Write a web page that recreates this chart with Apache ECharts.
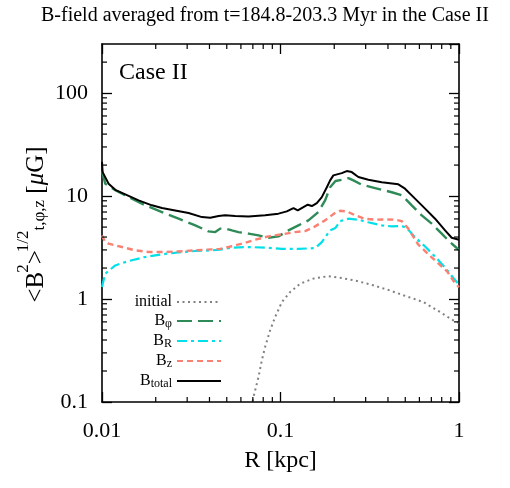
<!DOCTYPE html>
<html>
<head>
<meta charset="utf-8">
<script src="https://cdn.jsdelivr.net/npm/echarts@6/dist/echarts.min.js"></script>
<style>
  html, body { margin: 0; padding: 0; background: #fff; }
  #chart { width: 510px; height: 488px; }
</style>
</head>
<body>
<div id="chart"></div>
<script>
// Radial profiles of the time/azimuth/height averaged field strength [R (kpc), B (μG)]
const bInitial = [
  [0.068, 0.08], [0.0706, 0.112], [0.0753, 0.175], [0.0786, 0.254], [0.082, 0.342],
  [0.0875, 0.497], [0.0933, 0.668], [0.1018, 0.935], [0.1132, 1.17], [0.1288, 1.41],
  [0.1529, 1.58], [0.1855, 1.67], [0.2158, 1.61], [0.2676, 1.50], [0.331, 1.36],
  [0.411, 1.21], [0.5094, 1.06], [0.631, 0.935], [0.783, 0.748], [0.929, 0.62], [1.0, 0.585]
];
const bPhi = [
  [0.01, 17.5], [0.01043, 13.2], [0.01187, 11.4], [0.01409, 9.77], [0.01747, 8.13],
  [0.02168, 7.0], [0.02685, 6.03], [0.0333, 5.19], [0.0395, 4.54], [0.0431, 4.47],
  [0.0459, 4.83], [0.049, 4.83], [0.0534, 4.64], [0.0581, 4.47], [0.0662, 4.32],
  [0.0753, 4.15], [0.0856, 3.94], [0.0974, 4.06], [0.1108, 4.64], [0.126, 5.19],
  [0.1434, 5.81], [0.163, 7.0], [0.1778, 9.08], [0.1897, 12.2], [0.2032, 14.0],
  [0.2205, 14.4], [0.240, 14.96], [0.256, 14.2], [0.2853, 12.9], [0.3387, 11.97],
  [0.420, 10.9], [0.4779, 10.2], [0.5435, 8.13], [0.6183, 6.5], [0.7034, 5.4],
  [0.8, 4.32], [0.8905, 3.57], [0.971, 3.13], [1.0, 3.0]
];
const bR = [
  [0.01, 1.31], [0.0104, 1.75], [0.01089, 1.88], [0.01187, 2.12], [0.01409, 2.34],
  [0.01747, 2.56], [0.02168, 2.72], [0.02685, 2.84], [0.0333, 2.93], [0.0413, 2.97],
  [0.0459, 3.02], [0.0534, 3.16], [0.0662, 3.2], [0.082, 3.16], [0.1018, 3.07],
  [0.126, 3.07], [0.1563, 3.12], [0.1704, 3.57], [0.1897, 4.64], [0.2032, 4.9],
  [0.2158, 5.7], [0.24, 6.03], [0.273, 5.9], [0.31, 5.57], [0.369, 5.19],
  [0.42, 5.08], [0.478, 5.12], [0.509, 4.92], [0.57, 3.95], [0.65, 3.2],
  [0.74, 2.55], [0.84, 2.0], [0.93, 1.6], [1.0, 1.38]
];
const bZ = [
  [0.01, 4.15], [0.0104, 3.6], [0.01089, 3.45], [0.01294, 3.2], [0.01536, 2.97],
  [0.01823, 2.86], [0.02168, 2.86], [0.02685, 2.9], [0.0333, 2.97], [0.0413, 3.04],
  [0.0459, 3.07], [0.0512, 3.2], [0.0608, 3.45], [0.0721, 3.77], [0.0856, 4.06],
  [0.1018, 4.25], [0.1208, 4.47], [0.1374, 4.57], [0.1563, 5.08], [0.1778, 5.81],
  [0.2032, 6.9], [0.2158, 7.2], [0.235, 7.1], [0.2585, 6.59], [0.295, 6.03],
  [0.3387, 5.9], [0.3854, 5.93], [0.4385, 5.9], [0.4779, 5.71], [0.52, 4.83],
  [0.59, 3.4], [0.67, 2.75], [0.76, 2.25], [0.86, 1.85], [0.93, 1.5], [1.0, 1.3]
];
const bTotal = [
  [0.01, 21.5], [0.01008, 17.1], [0.01089, 13.2], [0.01187, 11.5], [0.0135, 10.4],
  [0.01603, 9.08], [0.01905, 8.13], [0.02168, 7.65], [0.0257, 7.26], [0.03054, 6.84],
  [0.0363, 6.25], [0.0404, 6.17], [0.045, 6.40], [0.049, 6.50], [0.0557, 6.40],
  [0.0662, 6.35], [0.082, 6.50], [0.0974, 6.75], [0.1085, 7.10], [0.1182, 7.65],
  [0.125, 7.26], [0.1344, 7.82], [0.1422, 8.25], [0.1498, 8.00], [0.1598, 8.55],
  [0.1704, 9.77], [0.1818, 12.2], [0.1897, 14.2], [0.1978, 15.9], [0.2205, 16.7],
  [0.235, 17.5], [0.2507, 17.1], [0.273, 15.3], [0.3106, 14.4], [0.3692, 13.6],
  [0.4572, 13.0], [0.4984, 11.8], [0.567, 9.44], [0.6456, 7.55], [0.7345, 6.03],
  [0.8355, 4.64], [0.91, 3.94], [1.0, 3.77]
];

// Axis ranges and minor tick positions (log axes)
const X_MIN = 0.01, X_MAX = 1;
const Y_MIN = 0.1, Y_MAX = 300;
const xMinorTicks = [0.02, 0.03, 0.04, 0.05, 0.06, 0.07, 0.08, 0.09,
                     0.2, 0.3, 0.4, 0.5, 0.6, 0.7, 0.8, 0.9];
const yMinorTicks = [0.2, 0.3, 0.4, 0.5, 0.6, 0.7, 0.8, 0.9,
                     2, 3, 4, 5, 6, 7, 8, 9,
                     20, 30, 40, 50, 60, 70, 80, 90, 200];

const legendLabels = {
  initial: 'initial',
  Bphi: '{b|B}{s|φ}',
  BR: '{b|B}{s|R}',
  Bz: '{b|B}{s|z}',
  Btotal: '{b|B}{s|total}'
};

// y-axis title pieces: text, font size, shift across the line, kerning before, italic
const yTitleParts = [
  ['<B', 25, 0, 0, false],
  ['2', 17, -12, -1, false],
  ['>', 25, 0, 0, false],
  ['1/2', 17, -12, -2, false],
  ['t,φ,z', 17, 4, 0, false],
  [' [', 25, 0, 0, false],
  ['μ', 25, 0, 0, true],
  ['G]', 25, 0, 0, false]
];

const SERIF = 'Liberation Serif, Times New Roman, serif';
const chart = echarts.init(document.getElementById('chart'), null, { renderer: 'canvas' });

// Build the rotated y-axis title as a group of text pieces laid out along the line
function buildYTitle(cx, cy) {
  const ctx = document.createElement('canvas').getContext('2d');
  const widths = yTitleParts.map(([t, size, , kern, it]) => {
    ctx.font = (it ? 'italic ' : '') + size + 'px "Liberation Serif"';
    return ctx.measureText(t).width + kern;
  });
  const total = widths.reduce((a, b) => a + b, 0);
  let x = -total / 2;
  const children = yTitleParts.map(([t, size, dy, kern, it], i) => {
    const el = {
      type: 'text', x: x + kern, y: dy,
      style: {
        text: t, fontFamily: SERIF, fontSize: size, fontStyle: it ? 'italic' : 'normal',
        fill: '#000', align: 'left', verticalAlign: 'middle'
      }
    };
    x += widths[i];
    return el;
  });
  return { type: 'group', x: cx, y: cy, rotation: Math.PI / 2, children };
}

function lineSeries(name, data, color, width, dash) {
  return {
    type: 'line', name, data,
    xAxisIndex: 0, yAxisIndex: 0,
    symbol: 'none', smooth: false, clip: true,
    lineStyle: { color, width, type: dash },
    itemStyle: { color },
    z: 3
  };
}

const frameAxis = {
  axisLine: { show: true, lineStyle: { color: '#000', width: 1.6 } },
  axisTick: { show: true, inside: true, length: 10, lineStyle: { color: '#000', width: 1.3 } },
  splitLine: { show: false },
  minorTick: { show: false }
};

const option = {
  backgroundColor: '#fff',
  animation: false,
  title: {
    text: 'B-field averaged from t=184.8-203.3 Myr in the Case II',
    left: 36, top: 1,
    textStyle: { fontFamily: SERIF, fontSize: 20, fontWeight: 'normal', color: '#000' }
  },
  grid: { left: 102, top: 44, width: 357, height: 358 },
  legend: {
    data: ['initial', 'Bphi', 'BR', 'Bz', 'Btotal'],
    orient: 'vertical',
    right: 288, top: 294,
    padding: 0,
    align: 'right',
    itemWidth: 44, itemHeight: 14, itemGap: 3,
    selectedMode: false,
    itemStyle: { opacity: 0 },
    formatter: (name) => legendLabels[name],
    textStyle: {
      fontFamily: SERIF, fontSize: 16, color: '#000',
      rich: {
        b: { fontFamily: SERIF, fontSize: 16, lineHeight: 18, color: '#000' },
        s: { fontFamily: SERIF, fontSize: 12, lineHeight: 12, verticalAlign: 'bottom', color: '#000' }
      }
    }
  },
  xAxis: [
    Object.assign({}, frameAxis, {
      type: 'log', logBase: 10, min: X_MIN, max: X_MAX, position: 'bottom',
      axisLabel: { show: true, margin: 18, fontFamily: SERIF, fontSize: 22, color: '#000' },
      name: 'R [kpc]', nameLocation: 'middle', nameGap: 47,
      nameTextStyle: { fontFamily: SERIF, fontSize: 24, color: '#000' }
    }),
    Object.assign({}, frameAxis, {
      type: 'log', logBase: 10, min: X_MIN, max: X_MAX, position: 'top',
      axisLabel: { show: false }
    })
  ],
  yAxis: [
    Object.assign({}, frameAxis, {
      type: 'log', logBase: 10, min: Y_MIN, max: Y_MAX, position: 'left',
      axisLabel: { show: true, margin: 14, showMaxLabel: false, fontFamily: SERIF, fontSize: 22, color: '#000' }
    }),
    Object.assign({}, frameAxis, {
      type: 'log', logBase: 10, min: Y_MIN, max: Y_MAX, position: 'right',
      axisLabel: { show: false }
    })
  ],
  graphic: [
    {
      type: 'text', x: 119, y: 73,
      style: { text: 'Case II', fontFamily: SERIF, fontSize: 24, fill: '#000', verticalAlign: 'middle' }
    },
    buildYTitle(36, 224.5)
  ],
  series: [
    lineSeries('initial', bInitial, '#808080', 2, [2, 3.5]),
    lineSeries('Bphi', bPhi, '#2e8b57', 2.4, [15, 6]),
    lineSeries('BR', bR, '#00e0e8', 2.2, [10, 4, 3, 4]),
    lineSeries('Bz', bZ, '#fa8072', 2.4, [6, 4]),
    lineSeries('Btotal', bTotal, '#000000', 2, 'solid'),
    {
      // minor ticks on all four frame edges, placed through the log scales
      type: 'custom', name: 'minorTicks', silent: true, z: 5, clip: false,
      xAxisIndex: 0, yAxisIndex: 0,
      encode: { x: 0, y: 1 },
      data: xMinorTicks.map(v => [v, Y_MIN, 0]).concat(yMinorTicks.map(v => [X_MIN, v, 1])),
      renderItem: function (params, api) {
        const kind = api.value(2);
        const st = { stroke: '#000', lineWidth: 1.2 };
        if (kind === 0) {
          const b = api.coord([api.value(0), Y_MIN]);
          const t = api.coord([api.value(0), Y_MAX]);
          return { type: 'group', children: [
            { type: 'line', shape: { x1: b[0], y1: b[1], x2: b[0], y2: b[1] - 5 }, style: st },
            { type: 'line', shape: { x1: t[0], y1: t[1], x2: t[0], y2: t[1] + 5 }, style: st }
          ] };
        }
        const l = api.coord([X_MIN, api.value(1)]);
        const r = api.coord([X_MAX, api.value(1)]);
        return { type: 'group', children: [
          { type: 'line', shape: { x1: l[0], y1: l[1], x2: l[0] + 5, y2: l[1] }, style: st },
          { type: 'line', shape: { x1: r[0], y1: r[1], x2: r[0] - 5, y2: r[1] }, style: st }
        ] };
      }
    }
  ]
};

chart.setOption(option);
</script>
</body>
</html>
